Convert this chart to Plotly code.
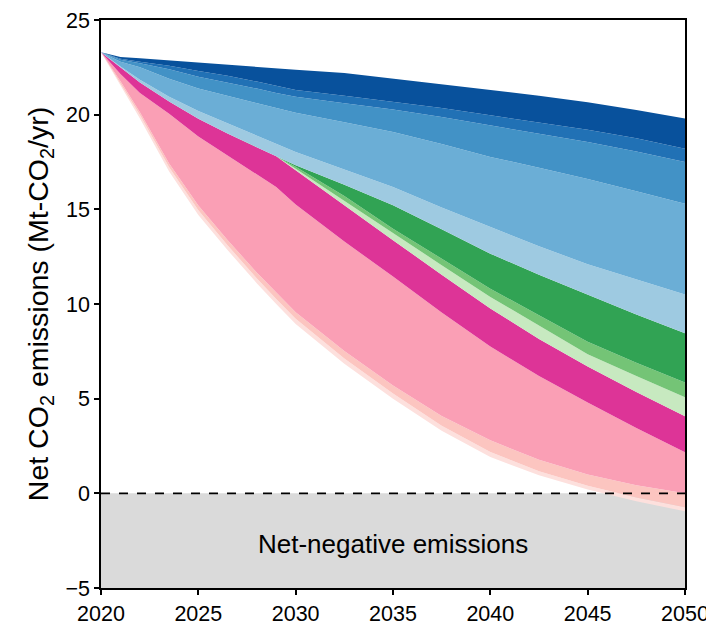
import plotly.graph_objects as go

# ---- data ----
years = [2020, 2021, 2022, 2023.5, 2025, 2026.5, 2028, 2029, 2030,
         2032.5, 2035, 2037.5, 2040, 2042.5, 2045, 2047.5, 2050]

# upper edge of each band (Mt-CO2/yr), from top band to bottom band
edge_blue1 = [23.3, 23.05, 22.98, 22.86, 22.75, 22.64, 22.52, 22.45, 22.37,
              22.2, 21.9, 21.62, 21.29, 21.0, 20.65, 20.25, 19.8]
edge_blue2 = [23.3, 22.95, 22.8, 22.58, 22.3, 22.05, 21.75, 21.52, 21.3,
              21.0, 20.67, 20.35, 19.97, 19.6, 19.2, 18.75, 18.2]
edge_blue3 = [23.3, 22.9, 22.72, 22.4, 22.0, 21.7, 21.38, 21.15, 20.95,
              20.6, 20.27, 19.88, 19.44, 19.0, 18.55, 18.05, 17.5]
edge_blue4 = [23.3, 22.8, 22.5, 21.9, 21.38, 21.0, 20.6, 20.35, 20.1,
              19.6, 19.09, 18.45, 17.77, 17.2, 16.6, 15.95, 15.3]
edge_blue5 = [23.3, 22.55, 21.85, 20.95, 20.2, 19.55, 18.9, 18.45, 18.03,
              17.1, 16.18, 15.1, 14.07, 13.05, 12.1, 11.3, 10.5]
edge_green1 = [23.3, 22.5, 21.7, 20.7, 19.78, 19.0, 18.3, 17.8, 17.33,
               16.3, 15.21, 13.95, 12.66, 11.55, 10.5, 9.45, 8.45]
edge_green2 = [23.3, 22.5, 21.7, 20.7, 19.78, 19.0, 18.3, 17.8, 17.25,
               15.7, 13.98, 12.4, 10.81, 9.4, 8.0, 6.9, 5.86]
edge_green3 = [23.3, 22.5, 21.7, 20.7, 19.78, 19.0, 18.3, 17.8, 17.15,
               15.45, 13.72, 12.05, 10.37, 8.85, 7.35, 6.2, 5.07]
edge_mag = [23.3, 22.5, 21.7, 20.7, 19.78, 19.0, 18.3, 17.8, 17.06,
            15.2, 13.37, 11.55, 9.76, 8.15, 6.7, 5.35, 4.07]
edge_pink1 = [23.3, 22.15, 21.15, 20.05, 18.85, 17.85, 16.85, 16.18, 15.25,
              13.3, 11.45, 9.55, 7.75, 6.2, 4.8, 3.45, 2.17]
edge_pink2 = [23.3, 21.77, 20.13, 17.42, 15.2, 13.38, 11.66, 10.6, 9.57,
              7.52, 5.7, 4.09, 2.8, 1.77, 1.0, 0.43, 0.0]
edge_pink3 = [23.3, 21.67, 19.98, 17.22, 14.95, 13.1, 11.36, 10.27, 9.22,
              7.12, 5.27, 3.57, 2.18, 1.17, 0.4, -0.22, -0.74]
net_emissions = [23.3, 21.55, 19.8, 17.0, 14.7, 12.85, 11.1, 10.0, 8.95,
                 6.85, 5.0, 3.3, 1.92, 0.95, 0.2, -0.42, -0.95]

x_ticks = [2020, 2025, 2030, 2035, 2040, 2045, 2050]
y_ticks = [-5, 0, 5, 10, 15, 20, 25]
X_MIN, X_MAX = 2020, 2050
Y_MIN, Y_MAX = -5, 25

# ---- styling ----
FONT = "Liberation Sans, Arial, Helvetica, sans-serif"
bands = [  # (upper edge, colour) from bottom to top
    (edge_pink3, "#fde0dd"),
    (edge_pink2, "#fcc5c0"),
    (edge_pink1, "#fa9fb5"),
    (edge_mag, "#dd3497"),
    (edge_green3, "#c7e9c0"),
    (edge_green2, "#74c476"),
    (edge_green1, "#31a354"),
    (edge_blue5, "#9ecae1"),
    (edge_blue4, "#6baed6"),
    (edge_blue3, "#4292c6"),
    (edge_blue2, "#2171b5"),
    (edge_blue1, "#08519c"),
]

fig = go.Figure()

# net-negative region
fig.add_trace(go.Scatter(
    x=[X_MIN, X_MAX, X_MAX, X_MIN], y=[Y_MIN, Y_MIN, 0, 0],
    fill="toself", fillcolor="#dadada", line=dict(width=0),
    mode="lines", hoverinfo="skip", showlegend=False))

# baseline (net emissions)
fig.add_trace(go.Scatter(x=years, y=net_emissions, mode="lines",
                         line=dict(width=0, color="rgba(0,0,0,0)"),
                         showlegend=False, hoverinfo="skip"))
for edge, col in bands:
    fig.add_trace(go.Scatter(x=years, y=edge, mode="lines",
                             fill="tonexty", fillcolor=col,
                             line=dict(width=0, color=col),
                             showlegend=False, hoverinfo="skip"))

# zero line
fig.add_trace(go.Scatter(x=[X_MIN, X_MAX], y=[0, 0], mode="lines",
                         line=dict(color="black", width=1.8, dash="dash"),
                         showlegend=False, hoverinfo="skip"))

fig.add_annotation(x=(X_MIN + X_MAX) / 2, y=-2.7, text="Net-negative emissions",
                   showarrow=False, font=dict(size=26, color="black", family=FONT))

axis_common = dict(showgrid=False, zeroline=False, showline=True, linecolor="black",
                   linewidth=1.5, mirror=True, ticks="outside", ticklen=5,
                   tickwidth=1.5, tickcolor="black", automargin=False,
                   ticklabeloverflow="allow",
                   tickfont=dict(size=21.5, color="black", family=FONT))

fig.update_xaxes(range=[X_MIN, X_MAX], tickvals=x_ticks,
                 ticktext=[str(t) for t in x_ticks], **axis_common)
fig.update_yaxes(range=[Y_MIN, Y_MAX], tickvals=y_ticks,
                 ticktext=["\u22125" if t < 0 else str(t) for t in y_ticks],
                 title=dict(text="Net CO<sub>2</sub> emissions (Mt-CO<sub>2</sub>/yr)",
                            font=dict(size=28.5, color="black", family=FONT),
                            standoff=8),
                 **axis_common)

# page body has an 8px margin, so the figure is sized/positioned to compensate
fig.update_layout(width=706, height=625,
                  margin=dict(l=93, r=29, t=12, b=45, autoexpand=False),
                  plot_bgcolor="white", paper_bgcolor="white",
                  font=dict(family=FONT, color="black"))

fig.write_html("out.html")
